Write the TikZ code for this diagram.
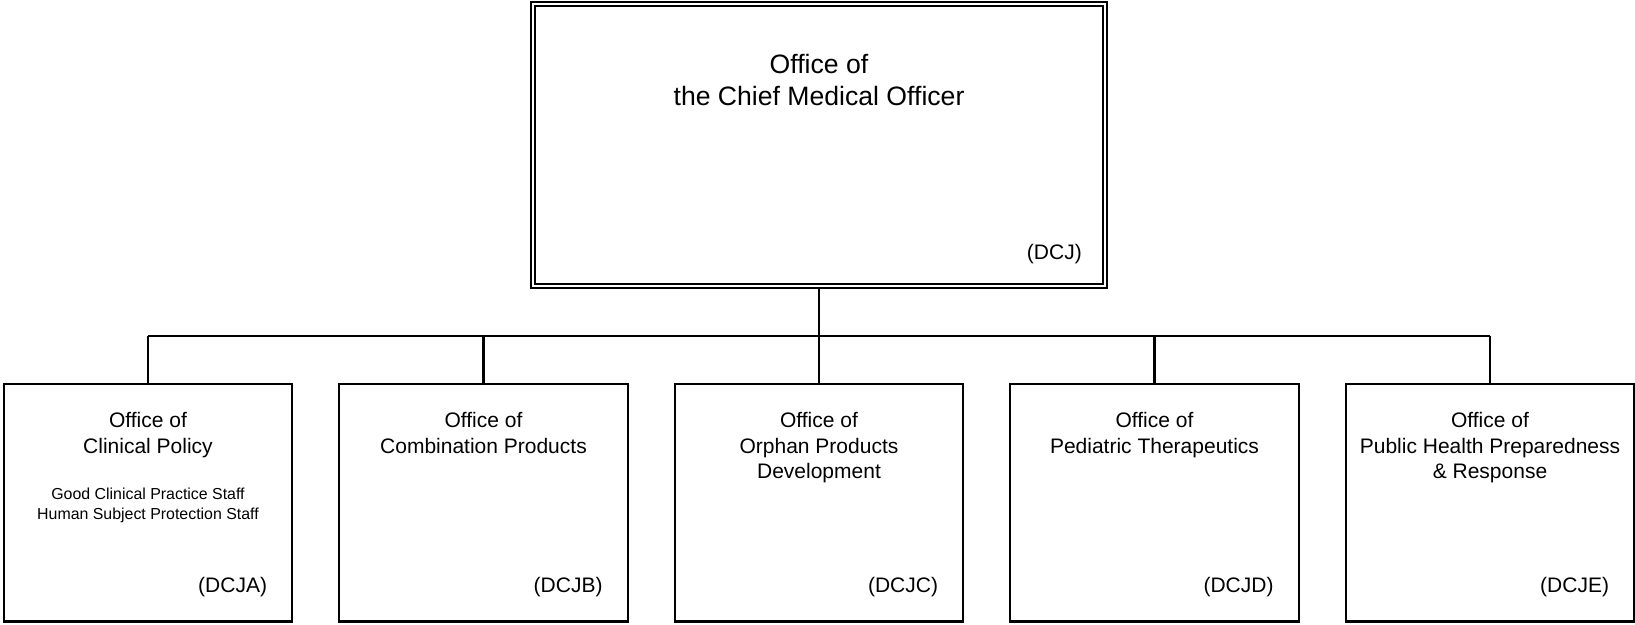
\documentclass[tikz,border=0pt]{standalone}
\usepackage{fontspec}
\setmainfont{Liberation Sans}
\begin{document}
\begin{tikzpicture}[x=1pt,y=-1pt,
  unitbox/.style={draw, line width=2.2pt, minimum width=288.5pt, minimum height=237.5pt, inner sep=0pt, outer sep=0pt},
  headbox/.style={draw, double, double distance=2.4pt, line width=2pt, minimum width=571.5pt, minimum height=281.5pt, inner sep=0pt, outer sep=3.2pt},
  maintext/.style={anchor=north, align=center, inner sep=0pt, font=\fontsize{21}{25.4}\selectfont},
  titletext/.style={align=center, inner sep=0pt, font=\fontsize{26.6}{32}\selectfont},
  smalltext/.style={anchor=north, align=center, inner sep=0pt, font=\fontsize{15.9}{20}\selectfont},
  codetext/.style={anchor=east, inner sep=0pt, font=\fontsize{21}{25}\selectfont},
  conn/.style={line width=2.2pt}]
\useasboundingbox (0,0) rectangle (1635,624);

\node[headbox] (top) at (819,145) {};
\node[titletext] (toptitle) at (819,80) {Office of\\the Chief Medical Officer};
\node[codetext] (topcode) at (1082,254) {(DCJ)};

\node[unitbox] (b1) at (148,502.75) {};
\node[unitbox] (b2) at (483.5,502.75) {};
\node[unitbox] (b3) at (819,502.75) {};
\node[unitbox] (b4) at (1154.5,502.75) {};
\node[unitbox] (b5) at (1490,502.75) {};

\node[maintext] (t1) at (148,412.2) {Office of\\Clinical Policy};
\node[smalltext] (s1) at (148,487.5) {Good Clinical Practice Staff\\Human Subject Protection Staff};
\node[maintext] (t2) at (483.5,412.2) {Office of\\Combination Products};
\node[maintext] (t3) at (819,412.2) {Office of\\Orphan Products\\Development};
\node[maintext] (t4) at (1154.5,412.2) {Office of\\Pediatric Therapeutics};
\node[maintext] (t5) at (1490,412.2) {Office of\\Public Health Preparedness\\\& Response};

\node[codetext] (c1) at ([xshift=-25pt]b1.east |- 0,587) {(DCJA)};
\node[codetext] (c2) at ([xshift=-25pt]b2.east |- 0,587) {(DCJB)};
\node[codetext] (c3) at ([xshift=-25pt]b3.east |- 0,587) {(DCJC)};
\node[codetext] (c4) at ([xshift=-25pt]b4.east |- 0,587) {(DCJD)};
\node[codetext] (c5) at ([xshift=-25pt]b5.east |- 0,587) {(DCJE)};

\coordinate (bus) at (0,336);
\draw[conn] (top.south) -- (top.south |- bus);
\draw[conn] (b1.north |- bus) -- (b5.north |- bus);
\foreach \b in {b1,b2,b3,b4,b5} {
  \draw[conn] (\b.north) -- (\b.north |- bus);
}
\end{tikzpicture}
\end{document}
